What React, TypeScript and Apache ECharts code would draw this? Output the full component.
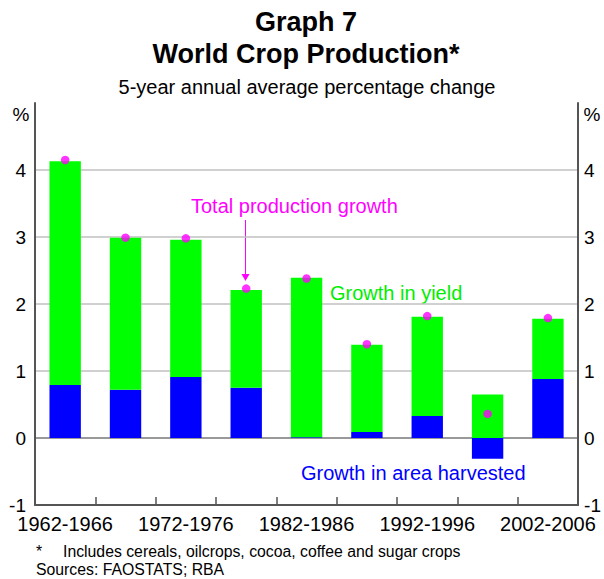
import React, { useEffect, useRef } from "react";
import * as echarts from "echarts";

const categories = [
  "1962-1966", "1967-1971", "1972-1976", "1977-1981", "1982-1986",
  "1987-1991", "1992-1996", "1997-2001", "2002-2006",
];
const areaGrowth = [0.79, 0.72, 0.91, 0.75, 0.01, 0.09, 0.33, -0.31, 0.88];
const yieldGrowth = [3.34, 2.27, 2.05, 1.46, 2.38, 1.3, 1.48, 0.65, 0.9];
const totalGrowth = [4.15, 2.99, 2.98, 2.23, 2.38, 1.4, 1.82, 0.36, 1.79];
const yTicks = [-1, 0, 1, 2, 3, 4, 5];

const FONT = "'Liberation Sans', Arial, sans-serif";

function txt(x: number, y: number, text: string, font: string, fill: string, align = "left") {
  return {
    type: "text",
    x,
    y,
    style: { text, font, fill, align, verticalAlign: "middle" },
  };
}

export default function App() {
  const ref = useRef<HTMLDivElement>(null);
  useEffect(() => {
    if (!ref.current) return;
    const chart = echarts.init(ref.current, null, { renderer: "svg" });
    const yMin = yTicks[0];
    const yMax = yTicks[yTicks.length - 1];
    const yAxisCommon = {
      type: "value" as const,
      min: yMin,
      max: yMax,
      interval: 1,
      axisLine: { show: true, lineStyle: { color: "#555", width: 2 } },
      axisTick: { show: false },
    };
    chart.setOption({
      animation: false,
      textStyle: { fontFamily: FONT },
      grid: { left: 35, right: 22, top: 103, bottom: 74, containLabel: false },
      xAxis: {
        type: "category",
        data: categories,
        axisLine: { show: true, onZero: false, lineStyle: { color: "#555", width: 2 } },
        axisTick: { show: true, inside: true, length: 8, interval: 0, lineStyle: { color: "#555", width: 1.5 } },
        axisLabel: { interval: 1, color: "#000", fontSize: 20, margin: 9, fontFamily: FONT },
      },
      yAxis: [
        {
          ...yAxisCommon,
          position: "left",
          axisLabel: {
            color: "#000",
            fontSize: 19,
            margin: 9,
            fontFamily: FONT,
            formatter: (v: number) => (v === yMax ? "" : String(v)),
          },
          splitLine: {
            show: true,
            lineStyle: {
              color: ["rgba(0,0,0,0)", "#777", "#c0c0c0", "#c0c0c0", "#c0c0c0", "#c0c0c0", "rgba(0,0,0,0)"],
              width: 1.5,
            },
          },
        },
        {
          ...yAxisCommon,
          position: "right",
          axisLabel: {
            color: "#000",
            fontSize: 19,
            margin: 6,
            fontFamily: FONT,
            formatter: (v: number) => (v === yMax ? "" : String(v)),
          },
          splitLine: { show: false },
        },
      ],
      series: [
        {
          name: "Growth in area harvested",
          type: "bar",
          stack: "total",
          data: areaGrowth,
          barWidth: "52%",
          itemStyle: { color: "#0000FF" },
        },
        {
          name: "Growth in yield",
          type: "bar",
          stack: "total",
          data: yieldGrowth,
          barWidth: "52%",
          itemStyle: { color: "#00FF00" },
        },
        {
          name: "Total production growth",
          type: "scatter",
          data: totalGrowth,
          symbol: "circle",
          symbolSize: 8.5,
          itemStyle: { color: "#FF00FF" },
          z: 5,
        },
      ],
      graphic: [
        txt(306, 22, "Graph 7", `bold 27px ${FONT}`, "#000", "center"),
        txt(306, 54, "World Crop Production*", `bold 27px ${FONT}`, "#000", "center"),
        txt(307, 87, "5-year annual average percentage change", `20px ${FONT}`, "#000", "center"),
        txt(21, 114, "%", `19px ${FONT}`, "#000", "center"),
        txt(592, 114, "%", `19px ${FONT}`, "#000", "center"),
        txt(191, 206, "Total production growth", `20px ${FONT}`, "#FF00FF"),
        { type: "line", shape: { x1: 245.5, y1: 220, x2: 245.5, y2: 275 }, style: { stroke: "#FF00FF", lineWidth: 1 } },
        { type: "polygon", shape: { points: [[241.5, 274], [249.5, 274], [245.5, 281]] }, style: { fill: "#FF00FF" } },
        txt(330, 293, "Growth in yield", `20px ${FONT}`, "#00EE00"),
        txt(301, 473, "Growth in area harvested", `20px ${FONT}`, "#0000FF"),
        txt(36, 551, "*", `15.8px ${FONT}`, "#000"),
        txt(63, 551, "Includes cereals, oilcrops, cocoa, coffee and sugar crops", `15.8px ${FONT}`, "#000"),
        txt(36, 569, "Sources: FAOSTATS; RBA", `15.8px ${FONT}`, "#000"),
      ],
    });
    return () => chart.dispose();
  }, []);
  return <div ref={ref} style={{ width: 604, height: 579, position: "absolute", left: 0, top: 0 }} />;
}
